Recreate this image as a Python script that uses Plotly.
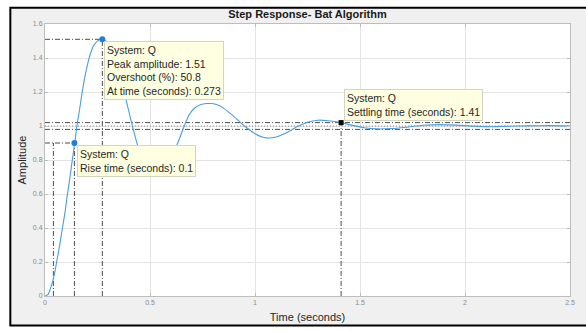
import plotly.graph_objects as go

# ---- data ----
time_s = [0, 0.015, 0.025, 0.036, 0.045, 0.055, 0.07, 0.083, 0.095, 0.105, 0.118, 0.13,
          0.1415, 0.152, 0.165, 0.176, 0.19, 0.204, 0.216, 0.228, 0.245, 0.26, 0.273,
          0.29, 0.31, 0.33, 0.35, 0.377, 0.41, 0.44, 0.47, 0.50, 0.535, 0.57, 0.60, 0.629,
          0.66, 0.684, 0.71, 0.74, 0.77, 0.794, 0.82, 0.85, 0.90, 0.95, 1.0, 1.053, 1.10,
          1.15, 1.20, 1.25, 1.30, 1.35, 1.41, 1.46, 1.52, 1.58, 1.65, 1.72, 1.80, 1.88,
          1.96, 2.04, 2.12, 2.20, 2.30, 2.40, 2.5]
amplitude = [0, 0.01, 0.04, 0.083, 0.13, 0.198, 0.30, 0.40, 0.49, 0.583, 0.69, 0.80,
             0.90, 1.00, 1.10, 1.19, 1.29, 1.37, 1.425, 1.465, 1.495, 1.508, 1.51,
             1.50, 1.46, 1.40, 1.32, 1.20, 1.03, 0.891, 0.80, 0.755, 0.74, 0.755, 0.81, 0.891,
             0.99, 1.06, 1.103, 1.125, 1.132, 1.132, 1.125, 1.105, 1.055, 1.0, 0.955, 0.930, 0.935,
             0.96, 0.995, 1.022, 1.034, 1.031, 1.02, 1.005, 0.99, 0.983, 0.985, 0.993, 1.004, 1.008,
             1.005, 0.999, 0.996, 0.998, 1.001, 1.002, 1.0]

rise_t10, rise_t90, rise_level = 0.04, 0.14, 0.9
peak_t, peak_amp = 0.273, 1.51
settle_t, settle_amp = 1.41, 1.02
band_upper, band_lower, final_value = 1.02, 0.98, 1.0
t_end = 2.5

x_ticks = [0, 0.5, 1, 1.5, 2, 2.5]
x_ticklabels = ["0", "0.5", "1", "1.5", "2", "2.5"]
y_ticks = [0, 0.2, 0.4, 0.6, 0.8, 1.0, 1.2, 1.4, 1.6]
y_ticklabels = ["0", "0.2", "0.4", "0.6", "0.8", "1", "1.2", "1.4", "1.6"]

peak_tip = ["System: Q", "Peak amplitude: 1.51", "Overshoot (%): 50.8", "At time (seconds): 0.273"]
rise_tip = ["System: Q", "Rise time (seconds): 0.1"]
settle_tip = ["System: Q", "Settling time (seconds): 1.41"]

# ---- layout geometry (pixels) ----
W, H = 586, 332
L, R, T, B = 45, 11, 24, 31
PW, PH = W - L - R, H - T - B


def px_x(px):
    return (px - L) / PW


def px_y(py):
    return (H - B - py) / PH


FONT = "Liberation Sans, Arial, sans-serif"
DD = "5px,2px,1px,2px"
REF_COL = "#4d4d4d"
CURVE_COL = "#4a9ee0"

fig = go.Figure()


def ref_line(xs, ys, dash=DD, color=REF_COL):
    fig.add_trace(go.Scatter(x=xs, y=ys, mode="lines", hoverinfo="skip", showlegend=False,
                             line=dict(color=color, width=1, dash=dash)))


# characteristic lines
ref_line([0, t_end], [band_upper, band_upper])
ref_line([0, t_end], [band_lower, band_lower])
ref_line([0, t_end], [final_value, final_value], dash="1px,2px", color="#8c8c8c")
ref_line([0, rise_t90], [rise_level, rise_level])
ref_line([rise_t10, rise_t10], [0, rise_level])
ref_line([rise_t90, rise_t90], [0, rise_level])
ref_line([0, peak_t], [peak_amp, peak_amp])
ref_line([peak_t, peak_t], [0, peak_amp])
ref_line([settle_t, settle_t], [0, settle_amp])

# step response
fig.add_trace(go.Scatter(x=time_s, y=amplitude, mode="lines", showlegend=False, name="Q",
                         line=dict(color=CURVE_COL, width=1.1, shape="spline", smoothing=0.6)))

# markers
fig.add_trace(go.Scatter(x=[rise_t90, peak_t], y=[rise_level, peak_amp], mode="markers",
                         showlegend=False, marker=dict(color="#1f7fd6", size=6)))
fig.add_trace(go.Scatter(x=[settle_t], y=[settle_amp], mode="markers", showlegend=False,
                         marker=dict(color="black", size=5, symbol="square")))

# background frame
shapes = [
    dict(type="rect", xref="paper", yref="paper", layer="below",
         x0=px_x(10), x1=px_x(600), y0=px_y(331), y1=px_y(7.5),
         fillcolor="#f0f0f0", line=dict(color="black", width=2)),
    dict(type="rect", xref="paper", yref="paper", layer="below",
         x0=0, x1=1, y0=0, y1=1, fillcolor="white", line=dict(width=0)),
]


def tip(lines, left, top):
    return dict(text="<br>".join(lines), xref="paper", yref="paper",
                x=px_x(left), y=px_y(top), xanchor="left", yanchor="top", align="left",
                showarrow=False, bgcolor="#ffffe1", bordercolor="#d4d4c4", borderwidth=1,
                borderpad=2, font=dict(family=FONT, size=10.5, color="#262626"))


annotations = [
    tip(peak_tip, 105, 41),
    tip(rise_tip, 77, 147),
    tip(settle_tip, 347, 90),
]

fig.update_layout(
    width=W, height=H,
    margin=dict(l=L, r=R, t=T, b=B),
    paper_bgcolor="white", plot_bgcolor="rgba(0,0,0,0)",
    font=dict(family=FONT),
    title=dict(text="<b>Step Response- Bat Algorithm</b>", x=0.5, xref="paper",
               y=1 - 14 / H, yref="container", xanchor="center", yanchor="middle",
               font=dict(family=FONT, size=11, color="#1a1a1a")),
    shapes=shapes,
    annotations=annotations,
    xaxis=dict(range=[0, t_end], tickvals=x_ticks, ticktext=x_ticklabels,
               showgrid=True, gridcolor="#e3e3e3", gridwidth=1, zeroline=False,
               showline=True, linecolor="#bdbdbd", linewidth=1, mirror="ticks",
               ticks="inside", ticklen=3, tickcolor="#bdbdbd",
               tickfont=dict(family=FONT, size=7, color="#8a8a8a"),
               title=dict(text="Time (seconds)", standoff=7,
                          font=dict(family=FONT, size=11, color="#262626"))),
    yaxis=dict(range=[0, 1.6], tickvals=y_ticks, ticktext=y_ticklabels,
               showgrid=True, gridcolor="#e3e3e3", gridwidth=1, zeroline=False,
               showline=True, linecolor="#bdbdbd", linewidth=1, mirror="ticks",
               ticks="inside", ticklen=3, tickcolor="#bdbdbd",
               tickfont=dict(family=FONT, size=7, color="#8a8a8a"),
               title=dict(text="Amplitude", standoff=4,
                          font=dict(family=FONT, size=11, color="#262626"))),
)

fig.write_html("out.html")
